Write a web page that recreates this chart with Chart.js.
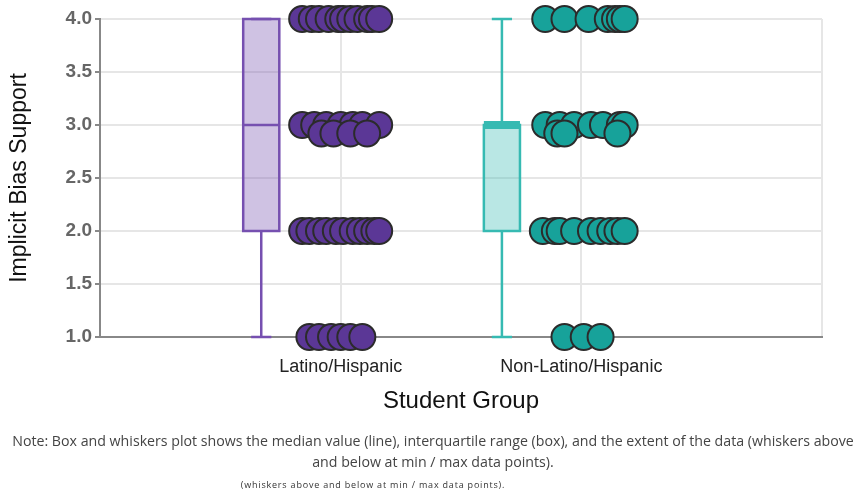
<!DOCTYPE html>
<html>
<head>
<meta charset="utf-8">
<script src="https://cdn.jsdelivr.net/npm/chart.js@4.4.1/dist/chart.umd.min.js"></script>
<style>
  html, body { margin: 0; padding: 0; background: #fff; }
  #wrap { position: relative; width: 858px; height: 491px; overflow: hidden; }
  #chartBox { position: absolute; left: 0; top: 0; width: 858px; height: 420px; }
  .note { position: absolute; left: 0; width: 866px; text-align: center; white-space: nowrap;
          font-family: "Open Sans", sans-serif; color: #444; filter: blur(0.5px); }
  #note1 { top: 431px; font-size: 14.2px; }
  #note2 { top: 452px; font-size: 14.2px; }
  #note3 { top: 478px; left: 238px; width: 270px; font-size: 9px; letter-spacing: 0.8px; color: #333; }
</style>
</head>
<body>
<div id="wrap">
  <div id="chartBox"><canvas id="chart"></canvas></div>
  <div class="note" id="note1">Note: Box and whiskers plot shows the median value (line), interquartile range (box), and the extent of the data (whiskers above</div>
  <div class="note" id="note2">and below at min / max data points).</div>
  <div class="note" id="note3">(whiskers above and below at min / max data points).</div>
</div>
<script>
// ─── DATA
const groups = ["Latino/Hispanic", "Non-Latino/Hispanic"];
const labelPos = [1, 2];
const boxPos = [0.67, 1.67];
const boxMin = [1, 1];
const boxQ1 = [2, 2];
const boxMedian = [3, 3];
const boxQ3 = [4, 3];
const boxMax = [4, 4];
const yTicks = [1.0, 1.5, 2.0, 2.5, 3.0, 3.5, 4.0];

// individual responses (x is horizontal jitter position)
const latinoX = [
  0.84, 0.88, 0.91, 0.95, 0.99, 1.01, 1.04, 1.07, 1.11, 1.13, 1.16,
  0.84, 0.89, 0.94, 1.00, 1.05, 1.09, 1.16, 0.92, 0.97, 1.04, 1.11,
  0.84, 0.87, 0.91, 0.94, 0.98, 1.01, 1.05, 1.08, 1.11, 1.14, 1.16,
  0.87, 0.91, 0.96, 1.00, 1.04, 1.09,
];
const latinoY = [
  4, 4, 4, 4, 4, 4, 4, 4, 4, 4, 4,
  3, 3, 3, 3, 3, 3, 3, 2.92, 2.92, 2.92, 2.92,
  2, 2, 2, 2, 2, 2, 2, 2, 2, 2, 2,
  1, 1, 1, 1, 1, 1,
];
const otherX = [
  1.85, 1.93, 2.03, 2.11, 2.14, 2.16, 2.18,
  1.85, 1.91, 1.97, 2.04, 2.09, 2.16, 2.18, 1.90, 1.93, 2.15,
  1.84, 1.89, 1.91, 1.97, 2.04, 2.08, 2.12, 2.15, 2.18,
  1.93, 2.01, 2.08,
];
const otherY = [
  4, 4, 4, 4, 4, 4, 4,
  3, 3, 3, 3, 3, 3, 3, 2.92, 2.92, 2.92,
  2, 2, 2, 2, 2, 2, 2, 2, 2,
  1, 1, 1,
];

const strokeCols = ["#7650b0", "#36bab2"];
const fillCols = ["rgba(118,80,176,0.35)", "rgba(54,186,178,0.35)"];
const pointCols = ["#5b3796", "#17a29a"];

// ─── BOX + WHISKERS
const boxPlugin = {
  id: "boxes",
  beforeDatasetsDraw(chart) {
    const { ctx, scales: { x, y } } = chart;
    const half = 0.075;
    ctx.save();
    groups.forEach((g, i) => {
      const cx = x.getPixelForValue(boxPos[i]);
      const l = x.getPixelForValue(boxPos[i] - half);
      const r = x.getPixelForValue(boxPos[i] + half);
      const cap = (r - l) * 0.28;
      const top = y.getPixelForValue(boxQ3[i]);
      const bot = y.getPixelForValue(boxQ1[i]);
      ctx.strokeStyle = strokeCols[i];
      ctx.lineWidth = 2.5;
      // whiskers
      ctx.beginPath();
      ctx.moveTo(cx, y.getPixelForValue(boxMax[i]));
      ctx.lineTo(cx, top);
      ctx.moveTo(cx, bot);
      ctx.lineTo(cx, y.getPixelForValue(boxMin[i]));
      ctx.moveTo(cx - cap, y.getPixelForValue(boxMax[i]));
      ctx.lineTo(cx + cap, y.getPixelForValue(boxMax[i]));
      ctx.moveTo(cx - cap, y.getPixelForValue(boxMin[i]));
      ctx.lineTo(cx + cap, y.getPixelForValue(boxMin[i]));
      ctx.stroke();
      // box
      ctx.fillStyle = fillCols[i];
      ctx.fillRect(l, top, r - l, bot - top);
      ctx.strokeRect(l, top, r - l, bot - top);
      // median
      const m = y.getPixelForValue(boxMedian[i]);
      ctx.lineWidth = boxMedian[i] === boxQ3[i] ? 8 : 2.5;
      ctx.beginPath();
      ctx.moveTo(l, m);
      ctx.lineTo(r, m);
      ctx.stroke();
    });
    ctx.restore();
  },
};

new Chart(document.getElementById("chart").getContext("2d"), {
  type: "scatter",
  data: {
    datasets: [
      {
        label: groups[0],
        data: latinoX.map((v, i) => ({ x: v, y: latinoY[i] })),
        backgroundColor: pointCols[0],
        borderColor: "#2b2b2b",
        borderWidth: 2,
        pointRadius: 13,
        clip: false,
      },
      {
        label: groups[1],
        data: otherX.map((v, i) => ({ x: v, y: otherY[i] })),
        backgroundColor: pointCols[1],
        borderColor: "#2b2b2b",
        borderWidth: 2,
        pointRadius: 13,
        clip: false,
      },
    ],
  },
  options: {
    responsive: true,
    maintainAspectRatio: false,
    animation: false,
    layout: { padding: { top: 19, right: 36, left: 0, bottom: 0 } },
    plugins: { legend: { display: false }, tooltip: { enabled: false } },
    scales: {
      x: {
        type: "linear",
        min: 0,
        max: 3,
        afterBuildTicks: (s) => { s.ticks = [0, ...labelPos, 3].map((v) => ({ value: v })); },
        ticks: {
          callback: (v) => { const i = labelPos.indexOf(v); return i < 0 ? "" : groups[i]; },
          font: { family: "Liberation Sans", size: 18 },
          color: "#222",
          padding: 19,
          maxRotation: 0,
        },
        grid: { color: "#e6e6e6", lineWidth: 2, drawTicks: false },
        border: { color: "#888", width: 2 },
        title: {
          display: true,
          text: "Student Group",
          font: { family: "Liberation Sans", size: 24 },
          color: "#111",
          padding: { top: 8 },
        },
        afterFit: (s) => { s.height = 83; },
      },
      y: {
        min: 1,
        max: 4,
        afterBuildTicks: (s) => { s.ticks = yTicks.map((v) => ({ value: v })); },
        ticks: {
          callback: (v) => v.toFixed(1),
          font: { family: "Liberation Sans", size: 19, weight: "bold" },
          color: "#666",
          padding: 3,
        },
        grid: { color: "#e6e6e6", lineWidth: 2, tickLength: 5, tickColor: "#888" },
        border: { color: "#888", width: 2 },
        title: {
          display: true,
          text: "Implicit Bias Support",
          font: { family: "Liberation Sans", size: 23 },
          color: "#111",
          padding: { top: 6, bottom: 0 },
        },
        afterFit: (s) => { s.width = 100; },
      },
    },
  },
  plugins: [boxPlugin],
});
</script>
</body>
</html>
